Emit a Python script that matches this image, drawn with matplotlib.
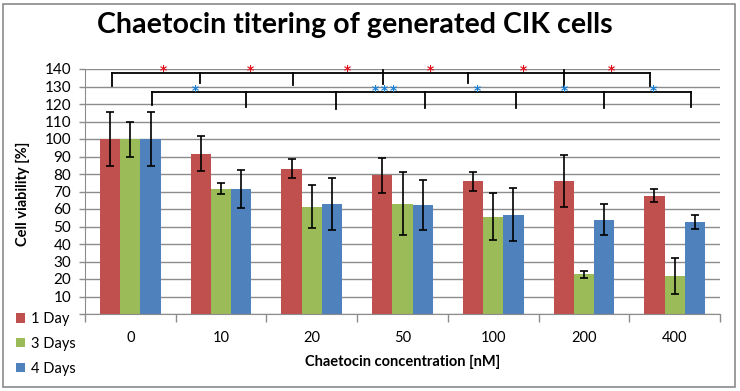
import numpy as np
import matplotlib
matplotlib.use("Agg")
import matplotlib.pyplot as plt
from matplotlib.patches import Rectangle

# values
concentrations = ["0", "10", "20", "50", "100", "200", "400"]
series_names = ["1 Day", "3 Days", "4 Days"]
day1 = [100, 91.5, 83, 79.3, 75.8, 76, 67.6]
day3 = [100, 71.6, 61.2, 62.9, 55.7, 22.7, 21.7]
day4 = [100, 71.3, 63, 62.3, 56.8, 53.9, 52.5]
day1_err = [15.5, 10, 5.3, 10.1, 5.3, 14.6, 3.7]
day3_err = [10, 3, 12.3, 18, 13.3, 1.9, 10.2]
day4_err = [15.5, 10.9, 15, 14.2, 15, 8.8, 3.9]

# significance brackets (category units / percent)
red_ticks_x = [-0.20, 0.77, 1.79, 2.78, 3.72, 4.78, 5.73]
red_ticks_top = [137.7, 137.7, 137.7, 139.2, 137.7, 139.4, 137.7]
red_ticks_bot = [130.3, 131.9, 131.0, 131.7, 131.8, 130.3, 130.3]
red_line_y = 137.7
red_star_x = [0.36, 1.32, 2.39, 3.31, 4.33, 5.30]
red_star_y = 141.0

blue_ticks_x = [0.235, 1.27, 2.27, 3.25, 4.25, 5.22, 6.18]
blue_ticks_bot = [119.3, 118.4, 117.2, 118.0, 117.6, 118.0, 118.4]
blue_line_y = 126.8
blue_star_x = [0.72, 2.70, 2.80, 2.90, 3.82, 4.78, 5.77]
blue_star_y = 130.0

colors = ["#C0504D", "#9BBB59", "#4F81BD"]
plt.rcParams['font.family'] = ['Lato', 'DejaVu Sans']

W, H = 740, 391
fig = plt.figure(figsize=(W / 100, H / 100), dpi=100)
ax = fig.add_axes([85 / W, 1 - 314 / H, (720 - 85) / W, (314 - 69) / H])

x = np.arange(len(concentrations))
bw = 0.223
handles = []
for k, (vals, errs) in enumerate([(day1, day1_err), (day3, day3_err), (day4, day4_err)]):
    off = (k - 1) * bw
    b = ax.bar(x + off, vals, bw, color=colors[k], label=series_names[k], zorder=2)
    handles.append(b)
    ax.errorbar(x + off, vals, yerr=errs, fmt='none', ecolor='black',
                elinewidth=1.2, capsize=3.2, capthick=1.2, zorder=3)

ax.set_xlim(-0.5, len(concentrations) - 0.5)
ax.set_ylim(0, 140)
ax.set_yticks(np.arange(0, 141, 10))
ax.set_yticklabels([str(v) if v else "" for v in range(0, 141, 10)])
ax.yaxis.grid(True, color='#8c8c8c', lw=1)
ax.set_axisbelow(True)

ax.set_xticks(np.arange(-0.5, len(concentrations), 1))
ax.set_xticklabels([])
ax.set_xticks(x, minor=True)
ax.set_xticklabels(concentrations, minor=True, fontsize=10.5)
ax.tick_params(axis='x', which='major', length=6, color='#8c8c8c', width=1)
ax.tick_params(axis='x', which='minor', length=0, pad=12)
ax.tick_params(axis='y', length=4, color='#8c8c8c', width=1, labelsize=11, pad=6)

for s in ['top', 'right']:
    ax.spines[s].set_visible(False)
for s in ['left', 'bottom']:
    ax.spines[s].set_color('#8c8c8c')

ax.set_ylabel("Cell viability [%]", fontsize=10.5, fontweight='bold')
ax.yaxis.set_label_coords(-0.087, 0.49)
ax.set_xlabel("Chaetocin concentration [nM]", fontsize=10.5, fontweight='bold')
ax.xaxis.set_label_coords(0.5, -0.196)
ax.xaxis.label.set_va('center')

# brackets
kw = dict(color='black', lw=1.3, clip_on=False, zorder=4)
ax.plot([red_ticks_x[0], red_ticks_x[-1]], [red_line_y, red_line_y], **kw)
for xx, t, bt in zip(red_ticks_x, red_ticks_top, red_ticks_bot):
    ax.plot([xx, xx], [t, bt], **kw)
ax.plot([blue_ticks_x[0], blue_ticks_x[-1]], [blue_line_y, blue_line_y], **kw)
for xx, bt in zip(blue_ticks_x, blue_ticks_bot):
    ax.plot([xx, xx], [blue_line_y, bt], **kw)
star_kw = dict(fontsize=10, fontweight='bold', family='DejaVu Sans', ha='center',
               va='baseline', clip_on=False, zorder=5)
for xx in red_star_x:
    ax.text(xx, red_star_y - 4.6, "*", color='#E0101C', **star_kw)
for xx in blue_star_x:
    ax.text(xx, blue_star_y - 4.6, "*", color='#1580D8', **star_kw)

fig.text(355 / W, 1 - 33 / H, "Chaetocin titering of generated CIK cells",
         fontsize=20.6, fontweight='bold', ha='center', va='baseline')

fig.legend(handles=handles, loc='center left', bbox_to_anchor=(16 / W, 1 - 344 / H),
           frameon=False, fontsize=10.5, handlelength=0.6, handleheight=0.6,
           handletextpad=0.4, labelspacing=0.75, borderpad=0, borderaxespad=0)

fig.patches.append(Rectangle((3 / W, 4 / H), 732 / W, 383 / H, transform=fig.transFigure,
                             fill=False, edgecolor='#8a8a8a', lw=1.2))

fig.savefig("out.png", dpi=100)
